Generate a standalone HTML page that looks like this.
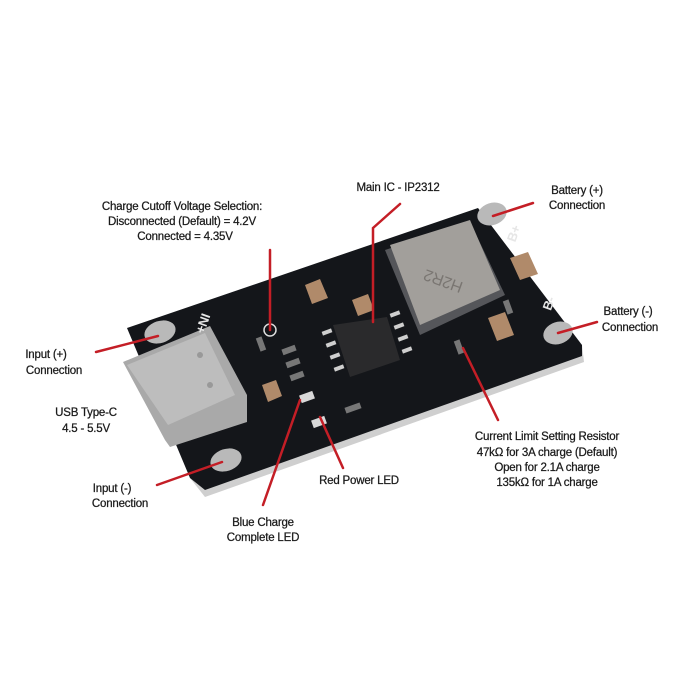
<!DOCTYPE html>
<html><head><meta charset="utf-8"><style>
html,body{margin:0;padding:0;background:#fff;width:700px;height:700px;overflow:hidden}
svg{display:block}
text{font-family:"Liberation Sans",Arial,sans-serif;font-size:11.5px;fill:#1a1a1a;stroke:#1a1a1a;stroke-width:0.25;text-anchor:middle;letter-spacing:-0.2px}
.w{fill:#e6e6e6;stroke:none;font-weight:bold;font-size:13px}
</style></head><body>
<svg width="700" height="700" viewBox="0 0 700 700" xmlns="http://www.w3.org/2000/svg">
<polygon points="190,478 582,345 584,362 205,497" fill="#cfcfcf"/>
<polygon points="127,328 478,208 582,345 582,356 205,490 190,478" fill="#14161a"/>
<ellipse cx="160" cy="332" rx="16" ry="11" fill="#b9b9b9" transform="rotate(-18 160 332)"/>
<ellipse cx="492" cy="214" rx="15" ry="11" fill="#b9b9b9" transform="rotate(-18 492 214)"/>
<ellipse cx="558" cy="333" rx="15" ry="11" fill="#b9b9b9" transform="rotate(-18 558 333)"/>
<ellipse cx="226" cy="460" rx="16" ry="11" fill="#b9b9b9" transform="rotate(-18 226 460)"/>
<polygon points="123,362 210,326 247,395 247,422 170,447 165,440" fill="#a9a9a9"/>
<polygon points="127,365 205,333 235,395 168,425" fill="#bdbdbd"/>
<circle cx="200" cy="355" r="3" fill="#999"/><circle cx="210" cy="385" r="3" fill="#999"/>
<polygon points="385,250 470,222 505,295 420,335" fill="#55565a"/>
<polygon points="390,245 470,220 500,290 420,325" fill="#a29f9b"/>
<text x="445" y="276" transform="rotate(-160 445 276)" style="font-size:16px;fill:#7a7672;stroke:none">H2R2</text>
<g fill="#cfcfcf">
<rect x="322" y="330" width="10" height="4" transform="rotate(-20 327 332)"/>
<rect x="326" y="342" width="10" height="4" transform="rotate(-20 331 344)"/>
<rect x="330" y="354" width="10" height="4" transform="rotate(-20 335 356)"/>
<rect x="334" y="366" width="10" height="4" transform="rotate(-20 339 368)"/>
<rect x="390" y="312" width="10" height="4" transform="rotate(-20 395 314)"/>
<rect x="394" y="324" width="10" height="4" transform="rotate(-20 399 326)"/>
<rect x="398" y="336" width="10" height="4" transform="rotate(-20 403 338)"/>
<rect x="402" y="348" width="10" height="4" transform="rotate(-20 407 350)"/>
</g>
<polygon points="333,325 387,317 400,360 350,377" fill="#2a2a2c"/>
<g fill="#b08a6a">
<polygon points="305,285 320,279 328,298 312,304"/>
<polygon points="352,300 368,294 374,310 358,316"/>
<polygon points="510,258 528,252 538,274 520,280"/>
<polygon points="488,318 505,312 514,335 497,341"/>
<polygon points="262,385 276,380 282,396 268,402"/>
</g>
<g fill="#777">
<rect x="282" y="347" width="14" height="6" transform="rotate(-20 289 350)"/>
<rect x="286" y="360" width="14" height="6" transform="rotate(-20 293 363)"/>
<rect x="290" y="373" width="14" height="6" transform="rotate(-20 297 376)"/>
<rect x="345" y="405" width="16" height="6" transform="rotate(-20 353 408)"/>
<rect x="456" y="340" width="6" height="14" transform="rotate(-20 459 347)"/>
<rect x="505" y="300" width="6" height="14" transform="rotate(-20 508 307)"/>
<rect x="258" y="337" width="6" height="14" transform="rotate(-20 261 344)"/>
</g>
<g fill="#d8d8d8">
<rect x="300" y="393" width="14" height="8" transform="rotate(-20 307 397)"/>
<rect x="312" y="418" width="14" height="8" transform="rotate(-20 319 422)"/>
</g>
<circle cx="270" cy="330" r="6" fill="none" stroke="#ddd" stroke-width="1.5"/>
<text class="w" x="207" y="325" transform="rotate(-70 207 325)">+NI</text>
<text class="w" x="518" y="235" transform="rotate(-70 518 235)">B+</text>
<text class="w" x="553" y="305" transform="rotate(-70 553 305)">B-</text>
<g stroke="#c41e26" stroke-width="2.5" fill="none" stroke-linecap="round">
<line x1="270" y1="250" x2="270" y2="330"/>
<polyline points="400,204 373,228 373,322"/>
<line x1="533" y1="203" x2="493" y2="216"/>
<line x1="597" y1="322" x2="558" y2="333"/>
<line x1="96" y1="352" x2="158" y2="336"/>
<line x1="157" y1="485" x2="222" y2="462"/>
<line x1="343" y1="468" x2="320" y2="417"/>
<line x1="263" y1="505" x2="300" y2="400"/>
<line x1="498" y1="420" x2="463" y2="348"/>
</g>
<text x="182" y="210">Charge Cutoff Voltage Selection:</text>
<text x="182" y="225">Disconnected (Default) = 4.2V</text>
<text x="185" y="240">Connected = 4.35V</text>
<text x="398" y="191">Main IC - IP2312</text>
<text x="577" y="194">Battery (+)</text>
<text x="577" y="209">Connection</text>
<text x="628" y="315">Battery (-)</text>
<text x="630" y="331">Connection</text>
<text x="46" y="358">Input (+)</text>
<text x="54" y="374">Connection</text>
<text x="86" y="416">USB Type-C</text>
<text x="86" y="432">4.5 - 5.5V</text>
<text x="112" y="492">Input (-)</text>
<text x="120" y="507">Connection</text>
<text x="359" y="484">Red Power LED</text>
<text x="263" y="526">Blue Charge</text>
<text x="263" y="541">Complete LED</text>
<text x="547" y="440">Current Limit Setting Resistor</text>
<text x="547" y="456">47kΩ for 3A charge (Default)</text>
<text x="547" y="471">Open for 2.1A charge</text>
<text x="547" y="486">135kΩ for 1A charge</text>
</svg>
</body></html>
